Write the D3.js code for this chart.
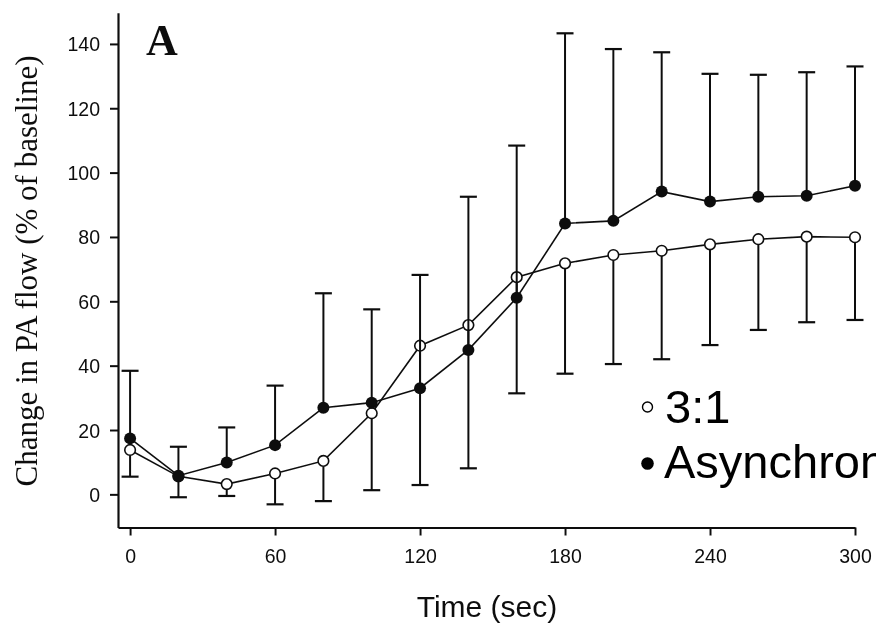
<!DOCTYPE html>
<html>
<head>
<meta charset="utf-8">
<script src="https://cdn.jsdelivr.net/npm/d3@7"></script>
<style>
  html, body { margin: 0; padding: 0; background: #fff; overflow: hidden; }
  svg { display: block; }
</style>
</head>
<body>
<svg id="chart" width="876" height="626"></svg>
<script>
// Sampling times (s)
const times = [0, 20, 40, 60, 80, 100, 120, 140, 160, 180, 200, 220, 240, 260, 280, 300];

// Asynchronous ventilation: mean change in PA flow (% of baseline) and SD
const asyncMean = [17.4, 5.8, 9.9, 15.3, 26.9, 28.5, 33.0, 44.9, 61.1, 84.2, 85.0, 94.1, 91.0, 92.5, 92.8, 95.9];
const asyncSD   = [21.0, 9.0, 10.9, 18.5, 35.6, 29.0, 35.2, 47.6, 47.3, 59.1, 53.4, 43.3, 39.7, 37.9, 38.4, 37.1];

// 3:1 ventilation: mean change in PA flow (% of baseline) and SD
const ratioMean = [13.8, 5.6, 3.2, 6.5, 10.4, 25.2, 46.2, 52.6, 67.5, 71.8, 74.4, 75.7, 77.7, 79.3, 80.1, 79.9];
const ratioSD   = [8.3, 6.5, 3.7, 9.6, 12.5, 23.9, 43.3, 44.5, 36.1, 34.3, 33.9, 33.7, 31.3, 28.2, 26.6, 25.7];

// Axis ticks
const xTicks = [0, 60, 120, 180, 240, 300];
const yTicks = [0, 20, 40, 60, 80, 100, 120, 140];

// Legend entries
const legendLabels = ["3:1", "Asynchronous"];

const svg = d3.select("#chart");

// soft edges for the plotted figure
const defs = svg.append("defs");
defs.append("filter").attr("id", "soft")
  .append("feGaussianBlur").attr("stdDeviation", 0.45);

const x = d3.scaleLinear().domain([-5, 300]).range([118, 855]);
const y = d3.scaleLinear().domain([-10.3, 149.7]).range([527.5, 12.7]);

const fig = svg.append("g").attr("filter", "url(#soft)");

const tickFont = "'Liberation Sans', Arial, Helvetica, sans-serif";
const serif = "'Liberation Serif', 'Times New Roman', serif";

// Y axis
const yAxis = fig.append("g")
  .attr("transform", `translate(${x(-5)},0)`)
  .call(d3.axisLeft(y).tickValues(yTicks).tickSize(8).tickSizeOuter(0).tickPadding(10));
yAxis.select(".domain").attr("stroke", "#111").attr("stroke-width", 2.2);
yAxis.selectAll(".tick line").attr("stroke", "#111").attr("stroke-width", 2);
yAxis.selectAll(".tick text")
  .attr("font-family", tickFont).attr("font-size", 19.5).attr("fill", "#111")
  .attr("dy", "0.36em");

// X axis
const xAxis = fig.append("g")
  .attr("transform", `translate(0,${y(-10.3)})`)
  .call(d3.axisBottom(x).tickValues(xTicks).tickSize(8).tickSizeOuter(0));
xAxis.select(".domain").attr("stroke", "#111").attr("stroke-width", 2.2);
xAxis.selectAll(".tick line").attr("stroke", "#111").attr("stroke-width", 2);
xAxis.selectAll(".tick text")
  .attr("font-family", tickFont).attr("font-size", 19.5).attr("fill", "#111")
  .attr("y", 22).attr("dy", "0.71em");

// Axis titles
fig.append("text")
  .attr("x", 487).attr("y", 617)
  .attr("text-anchor", "middle")
  .attr("font-family", tickFont).attr("font-size", 30).attr("fill", "#111")
  .text("Time (sec)");

fig.append("text")
  .attr("transform", "translate(37,271) rotate(-90)")
  .attr("text-anchor", "middle")
  .attr("font-family", serif).attr("font-size", 31).attr("fill", "#111")
  .text("Change in PA flow (% of baseline)");

// Panel letter
fig.append("text")
  .attr("x", 146).attr("y", 55)
  .attr("font-family", serif).attr("font-size", 44).attr("font-weight", "bold")
  .attr("fill", "#111")
  .text("A");

const capHalf = 8.5;
const ink = "#111";

function errorBars(g, means, sds, dir) {
  const data = times.map((t, i) => ({ t, m: means[i], e: means[i] + dir * sds[i] }));
  g.selectAll(null).data(data).enter().append("line")
    .attr("x1", d => x(d.t)).attr("x2", d => x(d.t))
    .attr("y1", d => y(d.m)).attr("y2", d => y(d.e))
    .attr("stroke", ink).attr("stroke-width", 2);
  g.selectAll(null).data(data).enter().append("line")
    .attr("x1", d => x(d.t) - capHalf).attr("x2", d => x(d.t) + capHalf)
    .attr("y1", d => y(d.e)).attr("y2", d => y(d.e))
    .attr("stroke", ink).attr("stroke-width", 2.2);
}

const line = d3.line().x(d => x(d[0])).y(d => y(d[1]));

// 3:1 series (open circles, SD below)
const gRatio = fig.append("g");
errorBars(gRatio, ratioMean, ratioSD, -1);
gRatio.append("path")
  .datum(times.map((t, i) => [t, ratioMean[i]]))
  .attr("d", line).attr("fill", "none").attr("stroke", ink).attr("stroke-width", 1.6);
gRatio.selectAll("circle").data(times.map((t, i) => [t, ratioMean[i]])).enter().append("circle")
  .attr("cx", d => x(d[0])).attr("cy", d => y(d[1])).attr("r", 5.3)
  .attr("fill", "#fff").attr("stroke", ink).attr("stroke-width", 1.6);

// Asynchronous series (filled circles, SD above)
const gAsync = fig.append("g");
errorBars(gAsync, asyncMean, asyncSD, 1);
gAsync.append("path")
  .datum(times.map((t, i) => [t, asyncMean[i]]))
  .attr("d", line).attr("fill", "none").attr("stroke", ink).attr("stroke-width", 1.6);
gAsync.selectAll("circle").data(times.map((t, i) => [t, asyncMean[i]])).enter().append("circle")
  .attr("cx", d => x(d[0])).attr("cy", d => y(d[1])).attr("r", 6)
  .attr("fill", ink);

// Legend (bulleted list running off the right edge)
const legend = svg.append("g").attr("font-family", tickFont).attr("font-size", 47).attr("fill", "#000");
legend.append("circle").attr("cx", 647.5).attr("cy", 407).attr("r", 5)
  .attr("fill", "none").attr("stroke", "#000").attr("stroke-width", 1.4);
legend.append("text").attr("x", 665).attr("y", 423).text(legendLabels[0]);
legend.append("circle").attr("cx", 647.5).attr("cy", 463.5).attr("r", 6.3).attr("fill", "#000");
legend.append("text").attr("x", 664).attr("y", 478).text(legendLabels[1]);
</script>
</body>
</html>
